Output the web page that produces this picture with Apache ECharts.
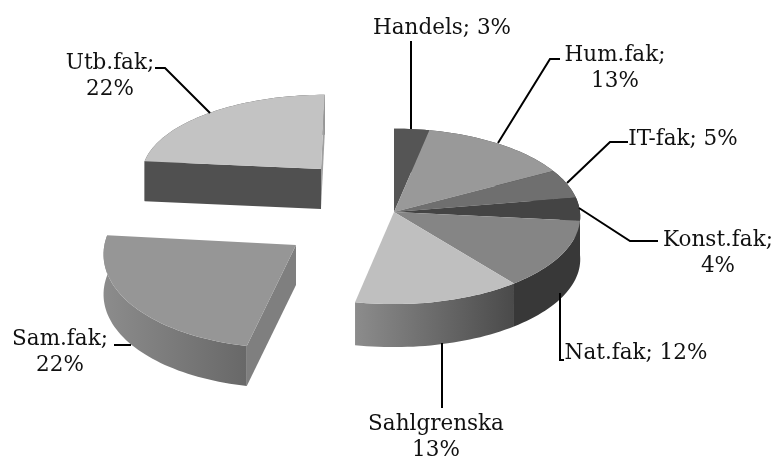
<!DOCTYPE html>
<html><head><meta charset="utf-8">
<style>html,body{margin:0;padding:0;background:#fff}#c{width:779px;height:459px}</style>
<script src="https://cdn.jsdelivr.net/npm/echarts@6/dist/echarts.min.js"></script>
</head><body><div id="c"></div>
<script>
const names = ['Handels','Hum.fak','IT-fak','Konst.fak','Nat.fak','Sahlgrenska','Sam.fak','Utb.fak'];
const values = [3,13,5,4,12,13,22,22];
const labels = ['Handels; 3%','Hum.fak;\n13%','IT-fak; 5%','Konst.fak;\n4%','Nat.fak; 12%','Sahlgrenska\n13%','Sam.fak;\n22%','Utb.fak;\n22%'];
const topColors = ['#555555','#999999','#6f6f6f','#444444','#858585','#bfbfbf','#969696','#c3c3c3'];

// view settings for the tilted disc and its exploded pieces
const Rx = 186, Ry = 87.5, K = 0.05;
const whole = {cx:394, cy:212, sx:1, sy:1, skew:0, h:43};
const pieces = [whole,whole,whole,whole,whole,whole,
  {cx:296, cy:245, sx:1.03, sy:1.12, skew:-0.09, h:40},
  {cx:321, cy:169, sx:0.96, sy:0.89, skew:-0.05, h:40}];
const sideFills = [
  '#444','#444','#444','#383838','#383838',
  ['#8c8c8c','#4a4a4a'], ['#8c8c8c','#686868'], '#505050'];
const walls = [null,null,null,null,null,null,{start:'#7f7f7f'},{start:'#505050',end:'#a0a0a0'}];
const labelAt = [[442,28],[615,68],[683,139],[718,253],[636,353],[436,437],[60,352],[110,76]];
const leaders = [
  [[411,41],[411,129]],
  [[560,59],[550,59],[498,143]],
  [[628,142],[610,142],[567,183]],
  [[579,208],[630,241],[658,241]],
  [[560,293],[560,360],[564,360]],
  [[442,343],[442,408]],
  [[114,345],[131,345]],
  [[155,68],[165,68],[210,113]]
];

const total = values.reduce((a,b)=>a+b,0);
function project(p, theta, r, drop){
  const a = r*Math.sin(theta), b = -r*Math.cos(theta), w = 1-K*b;
  const y = Ry*b/w*p.sy;
  return [p.cx + Rx*a/w*p.sx + p.skew*y, p.cy + y + drop];
}
function arc(p, t0, t1, drop){
  const n = Math.max(4, Math.ceil((t1-t0)/0.03)), out=[];
  for(let i=0;i<=n;i++) out.push(project(p, t0+(t1-t0)*i/n, 1, drop));
  return out;
}
const chart = echarts.init(document.getElementById('c'), null, {renderer:'canvas'});
const font = '21.5px "DejaVu Serif"';
chart.setOption({
  animation:false,
  backgroundColor:'#ffffff',
  series:[{
    type:'custom',
    coordinateSystem:'none',
    animation:false,
    silent:true,
    data: values.map((v,i)=>({name:names[i], value:[i,v]})),
    renderItem(params, api){
      const i = api.value(0), p = pieces[i];
      let before = 0; for(let j=0;j<i;j++) before += values[j];
      const t0 = before/total*2*Math.PI, t1 = (before+api.value(1))/total*2*Math.PI;
      const kids = [];
      const sf = sideFills[i];
      const sideFill = Array.isArray(sf)
        ? new echarts.graphic.LinearGradient(0,0,1,0,[{offset:0,color:sf[0]},{offset:1,color:sf[1]}]) : sf;
      const top = arc(p,t0,t1,0), bottom = arc(p,t0,t1,p.h).reverse();
      kids.push({type:'polygon', z2:1, shape:{points:top.concat(bottom)}, style:{fill:sideFill}});
      const c0 = [p.cx,p.cy], c1=[p.cx,p.cy+p.h];
      const w = walls[i];
      if(w && w.start){
        const e=project(p,t0,1,0), f=project(p,t0,1,p.h);
        kids.push({type:'polygon', z2:2, shape:{points:[c0,e,f,c1]}, style:{fill:w.start}});
      }
      if(w && w.end){
        const e=project(p,t1,1,0), f=project(p,t1,1,p.h);
        kids.push({type:'polygon', z2:2, shape:{points:[c0,e,f,c1]}, style:{fill:w.end}});
      }
      kids.push({type:'polygon', z2:3, shape:{points:[c0].concat(top)}, style:{fill:topColors[i]}});
      kids.push({type:'polyline', z2:4, shape:{points:leaders[i]}, style:{stroke:'#000',lineWidth:2,fill:null}});
      kids.push({type:'text', z2:5, style:{text:labels[i], x:labelAt[i][0], y:labelAt[i][1],
        font, fill:'#111', textAlign:'center', textVerticalAlign:'middle', lineHeight:26}});
      return {type:'group', children:kids};
    }
  }]
});
</script></body></html>
